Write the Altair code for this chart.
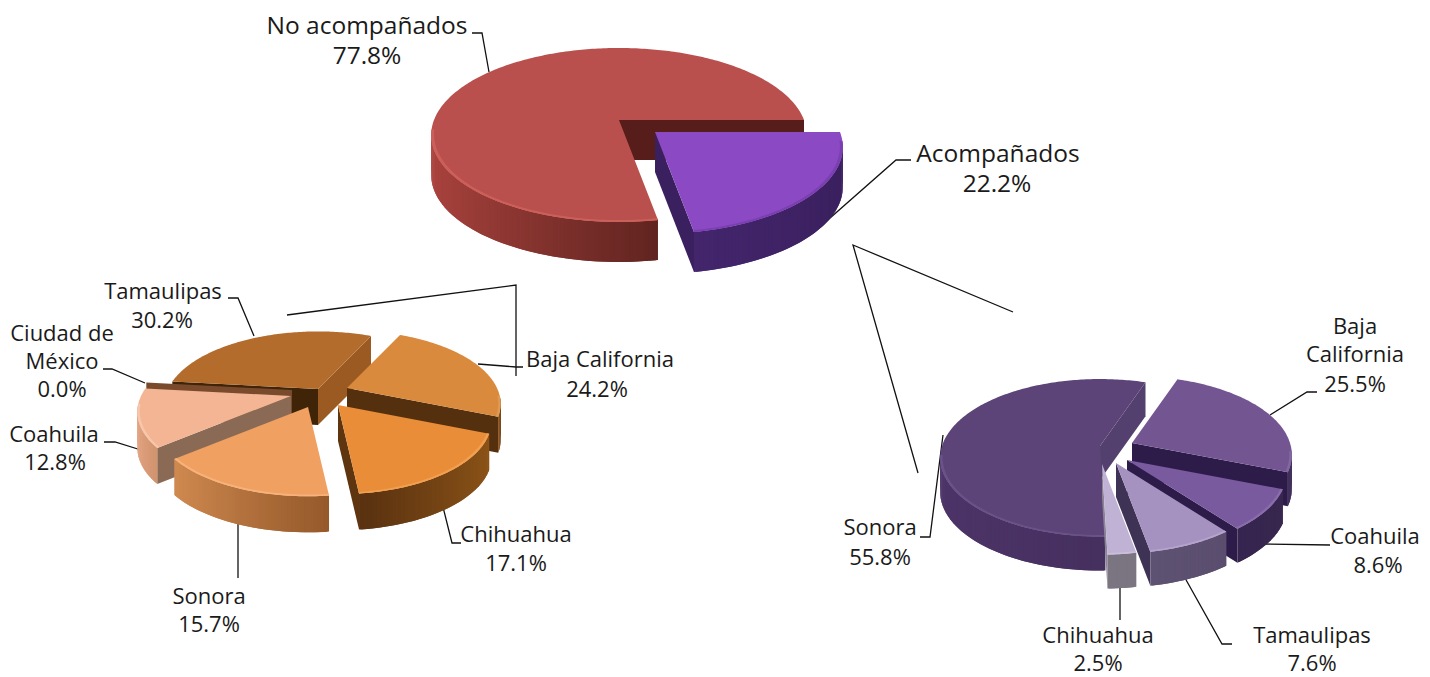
import math
import altair as alt

# ---- chart values ----
main_labels = ["Acompañados", "No acompañados"]
main_values = [22.2, 77.8]
left_labels = ["Baja California", "Chihuahua", "Sonora", "Coahuila", "Ciudad de México", "Tamaulipas"]
left_values = [24.2, 17.1, 15.7, 12.8, 0.0, 30.2]
right_labels = ["Baja California", "Coahuila", "Tamaulipas", "Chihuahua", "Sonora"]
right_values = [25.5, 8.6, 7.6, 2.5, 55.8]

# ---- layout and style, separate from the values ----
PIES = [
    dict(values=main_values, start=0.0, R=185, Ry=84.4, k=0.172, depth=40, order=[1, 0],
         apex=[(655, 132), (619, 120)],
         top=["#8c49c4", "#b9504d"], rim=["#7a3fb0", "#cc5f59"],
         face=[("#3b2060", "#3b2060"), ("#561d1b", "#561d1b")],
         wall=[("#43256c", "#3a205e"), ("#ad443f", "#612420")]),
    dict(values=left_values, start=-65.0, R=150, Ry=70, k=0.216, depth=36, order=[5, 4, 0, 3, 1, 2],
         apex=[(347, 388), (338, 405), (308, 407), (291, 396), (292, 390), (318, 389)],
         top=["#d98a3c", "#e98d38", "#f0a060", "#f3b594", "#7a4a28", "#b46c2c"],
         rim=["#e09a52", "#f0a050", "#f6b27a", "#f7c6ab", "#7a4a28", "#b46c2c"],
         face=[("#54300e", "#54300e"), ("#5f3510", "#5f3510"), ("#a86a35", "#a86a35"),
               ("#8a6a55", "#8a6a55"), ("#7a4a2c", "#7a4a2c"), ("#3f2408", "#9a5a22")],
         wall=[("#8a5018", "#5a3010"), ("#5a3210", "#8c5418"), ("#d08a50", "#95592a"),
               ("#e5a684", "#d2946f"), ("#7a4a28", "#7a4a28"), ("#9c5a22", "#8a4f1c")]),
    dict(values=right_values, start=-70.8, R=158, Ry=77, k=0.15, depth=34, order=[4, 0, 1, 2, 3],
         apex=[(1132, 443), (1127, 460), (1116, 463), (1102, 464), (1100, 446)],
         top=["#735592", "#7a5a9e", "#a692c0", "#c0b2d4", "#5c4478"],
         rim=["#8268a0", "#8a6cab", "#b5a3cc", "#cbbfdc", "#6a5288"],
         face=[("#2d1c4a", "#2d1c4a"), ("#2d1c4a", "#2d1c4a"), ("#3f3355", "#3f3355"),
               ("#8a8496", "#8a8496"), ("#54406f", "#54406f")],
         wall=[("#3c2a58", "#33234d"), ("#35254f", "#38284f"), ("#5e5272", "#5a4d6e"),
               ("#7b7582", "#7b7582"), ("#4d3469", "#46305f")]),
]

BIG, SMALL = 24.5, 22
LABELS = [
    ("No acompañados", 367, 27, BIG), ("77.8%", 367, 57, BIG),
    ("Acompañados", 998, 155, BIG), ("22.2%", 997, 185, BIG),
    ("Tamaulipas", 163, 292, SMALL), ("30.2%", 162, 321, SMALL),
    ("Ciudad de", 62, 334, SMALL), ("México", 62, 362, SMALL), ("0.0%", 62, 390, SMALL),
    ("Coahuila", 54, 435, SMALL), ("12.8%", 55, 463, SMALL),
    ("Baja California", 600, 360, SMALL), ("24.2%", 597, 390, SMALL),
    ("Chihuahua", 516, 535, SMALL), ("17.1%", 516, 564, SMALL),
    ("Sonora", 209, 597, SMALL), ("15.7%", 209, 625, SMALL),
    ("Baja", 1355, 327, SMALL), ("California", 1355, 355, SMALL), ("25.5%", 1355, 385, SMALL),
    ("Coahuila", 1375, 537, SMALL), ("8.6%", 1378, 566, SMALL),
    ("Tamaulipas", 1312, 636, SMALL), ("7.6%", 1312, 664, SMALL),
    ("Chihuahua", 1098, 636, SMALL), ("2.5%", 1098, 664, SMALL),
    ("Sonora", 880, 528, SMALL), ("55.8%", 880, 558, SMALL),
]

LEADERS = [
    [(472, 33), (482, 33), (489, 72)],
    [(911, 160), (896, 160), (813, 233)],
    [(228, 298), (238, 298), (254, 336)],
    [(103, 369), (112, 369), (145, 383)],
    [(104, 442), (115, 442), (141, 450)],
    [(523, 367), (516, 367), (478, 364)],
    [(443, 507), (452, 543), (461, 543)],
    [(238, 524), (238, 578)],
    [(287, 315), (516, 285), (516, 376)],
    [(1013, 312), (853, 245), (918, 473)],
    [(1270, 415), (1307, 392), (1317, 392)],
    [(1263, 544), (1330, 545)],
    [(1185, 578), (1222, 644), (1232, 644)],
    [(1120, 588), (1120, 620)],
    [(920, 537), (930, 537), (943, 435)],
]

FONT = "Open Sans"
W, H = 1414, 669


def mix(c1, c2, t):
    a = [int(c1[i:i + 2], 16) for i in (1, 3, 5)]
    b = [int(c2[i:i + 2], 16) for i in (1, 3, 5)]
    return "#" + "".join(f"{round(x + (y - x) * t):02x}" for x, y in zip(a, b))


def feature(ring, color):
    ring = [list(p) for p in ring]
    ring.append(ring[0])
    return {"type": "Feature", "properties": {"color": color},
            "geometry": {"type": "Polygon", "coordinates": [ring]}}


def pie_features(pie):
    feats = []
    spans, a = [], pie["start"]
    for value in pie["values"]:
        spans.append((a, a + value * 3.6))
        a += value * 3.6
    R, Ry, k, d = pie["R"], pie["Ry"], pie["k"], pie["depth"]

    for i in pie["order"]:
        a0, a1 = spans[i]
        cx, cy = pie["apex"][i]

        def pt(r, deg):
            u, v = r * math.cos(math.radians(deg)), r * math.sin(math.radians(deg))
            s = 1 / (1 - k * v)
            return (cx + R * u * s, cy + Ry * v * s)

        def down(p):
            return (p[0], p[1] + d)

        n = max(2, int(a1 - a0) + 1)
        angles = [a0 + (a1 - a0) * j / n for j in range(n + 1)]

        # radial faces that look towards the viewer (a zero slice shows just one face)
        if a1 == a0:
            p0, p1 = pt(0, 0), pt(1, a0)
            feats.append(feature([p0, p1, down(p1), down(p0)], pie["face"][i][0]))
        else:
            for which, (edge, inner) in enumerate(((a0, a0 + min(10, (a1 - a0) / 2)),
                                                   (a1, a1 - min(10, (a1 - a0) / 2)))):
                p0, p1, q = pt(0, 0), pt(1, edge), pt(0.5, inner)
                if abs(p1[0] - p0[0]) < 1e-6:
                    continue
                line_y = p0[1] + (p1[1] - p0[1]) * (q[0] - p0[0]) / (p1[0] - p0[0])
                if q[1] < line_y:
                    feats.append(feature([p0, p1, down(p1), down(p0)], pie["face"][i][which]))

        if a1 == a0:
            continue

        # curved outer wall, as overlapping shaded strips, from the back to the front
        strips = [(x, y) for x, y in zip(angles[:-1], angles[1:])
                  if math.sin(math.radians((x + y) / 2)) >= k * 0.6]
        strips.sort(key=lambda s: math.sin(math.radians((s[0] + s[1]) / 2)))
        if strips:
            cs = [math.cos(math.radians((x + y) / 2)) for x, y in strips]
            lo, hi = min(cs), max(cs)
            for (x, y), c in zip(strips, cs):
                t = (c - lo) / (hi - lo) if hi > lo else 0
                col = mix(pie["wall"][i][0], pie["wall"][i][1], t)
                p, q = pt(1, max(a0, x - 0.5)), pt(1, min(a1, y + 0.5))
                feats.append(feature([p, q, down(q), down(p)], col))

        # top surface and a thin bright rim on its front edge
        feats.append(feature([pt(0, 0)] + [pt(1, x) for x in angles], pie["top"][i]))
        front = [x for x in angles if math.sin(math.radians(x)) > 0.1]
        if len(front) > 1:
            feats.append(feature([pt(1, x) for x in front] +
                                 [pt(0.985, x) for x in reversed(front)], pie["rim"][i]))
    return feats


features = []
for pie in PIES:
    features.extend(pie_features(pie))

pies = alt.Chart(alt.Data(values=features, format=alt.DataFormat(type="json"))).mark_geoshape(
    strokeWidth=0
).encode(
    fill=alt.Fill("properties.color:N", scale=None, legend=None),
).project(type="identity", scale=1, translate=[-8, -8])

xs = alt.Scale(domain=[8, 8 + W], range=[0, W], nice=False, zero=False)
ys = alt.Scale(domain=[8, 8 + H], range=[0, H], nice=False, zero=False)

leader_rows = [
    {"id": i, "seq": j, "x": p[0], "y": p[1]}
    for i, line in enumerate(LEADERS) for j, p in enumerate(line)
]
leaders = alt.Chart(alt.Data(values=leader_rows)).mark_line(color="#111111", strokeWidth=1.3).encode(
    x=alt.X("x:Q", scale=xs, axis=None),
    y=alt.Y("y:Q", scale=ys, axis=None),
    detail="id:N",
    order="seq:Q",
)

label_rows = [{"t": t, "x": x, "y": y, "s": s} for t, x, y, s in LABELS]
labels = alt.Chart(alt.Data(values=label_rows)).mark_text(
    font=FONT, color="#1a1a1a", align="center", baseline="middle"
).encode(
    x=alt.X("x:Q", scale=xs, axis=None),
    y=alt.Y("y:Q", scale=ys, axis=None),
    text="t:N",
    size=alt.Size("s:Q", scale=None, legend=None),
)

chart = alt.layer(leaders, pies, labels).resolve_scale(x="shared", y="shared").properties(
    width=W, height=H, padding=0, autosize=alt.AutoSizeParams(type="none"),
).configure_view(stroke=None)

chart.save("out.html", embed_options={"renderer": "svg", "actions": False})
